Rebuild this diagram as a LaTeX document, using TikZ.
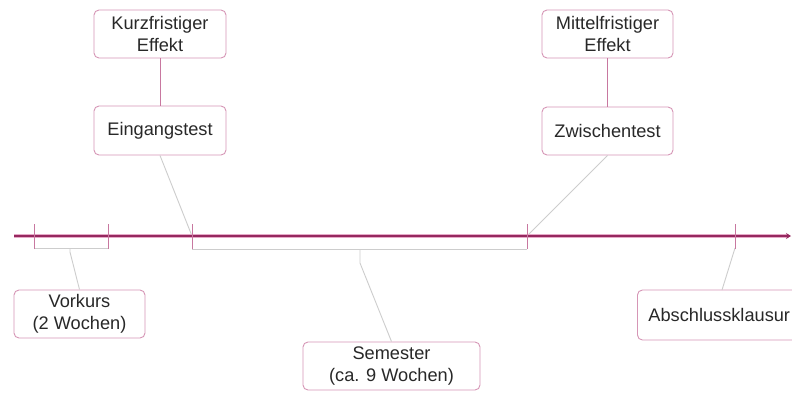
\documentclass[tikz,border=0pt]{standalone}
\usepackage{fontspec}
\setmainfont{Liberation Sans}
\usetikzlibrary{arrows.meta}
\definecolor{boxpink}{RGB}{214,150,182}
\definecolor{linkpink}{RGB}{200,120,160}
\definecolor{axisdark}{RGB}{150,40,95}
\definecolor{axislight}{RGB}{230,170,200}
\definecolor{graylink}{RGB}{205,205,205}
\definecolor{txt}{RGB}{40,40,40}
\tikzset{
  box/.style={draw=boxpink, line width=0.9pt, rounded corners=5pt, fill=white,
    align=center, text=txt, font=\fontsize{18.2}{22}\selectfont,
    inner sep=0pt},
  graylink/.style={draw=graylink, line width=0.9pt},
  pinklink/.style={draw=linkpink, line width=1pt},
  tickline/.style={draw=linkpink, line width=0.9pt},
}
\begin{document}
\begin{tikzpicture}[x=1pt,y=-1pt]
\path[use as bounding box, clip] (0,0) rectangle (792,392);
\fill[white] (0,0) rectangle (792,392);

% boxes
\node[box, minimum width=132pt, minimum height=48pt] (kurz) at (160,34) {Kurzfristiger\\Effekt};
\node[box, minimum width=132pt, minimum height=49pt] (eing) at (160,130.5) {Eingangstest};
\node[box, minimum width=131pt, minimum height=48pt] (mittel) at (607.5,34) {Mittelfristiger\\Effekt};
\node[box, minimum width=131pt, minimum height=48pt] (zwi) at (607.5,131) {Zwischentest};
\node[box, minimum width=131pt, minimum height=48pt] (vork) at (79.5,314) {Vorkurs\\(2 Wochen)};
\node[box, minimum width=177pt, minimum height=48pt] (sem) at (391.5,366) {Semester\\(ca. 9 Wochen)};
\node[box, anchor=west, minimum height=50pt, inner xsep=11pt] (absch) at (637,315) {Abschlussklausur};

% axis coordinates
\coordinate (ax0) at (14,236);
\coordinate (ax1) at (791,236);
\coordinate (t1) at (34,236);
\coordinate (t2) at (108,236);
\coordinate (t3) at (192,236);
\coordinate (t4) at (527,236);
\coordinate (t5) at (735,236);

% brackets
\coordinate (b1) at (34,248);
\coordinate (b2) at (108,248);
\coordinate (b3) at (192,249);
\coordinate (b4) at (527,249);
\coordinate (bv) at (70,248);
\coordinate (bs) at (360,249);
\draw[graylink] (b1) -- (b2);
\draw[graylink] (b3) -- (b4);
\draw[graylink] (bv) -- ++(0,4) -- (vork.north);
\draw[graylink] (bs) -- ++(0,14) -- (sem.north);

% slanted links
\draw[graylink] (eing.south) -- (t3);
\draw[graylink] (zwi.south) -- (t4);
\coordinate (t5b) at (735,248);
\draw[graylink] (t5b) -- (722,290);

% vertical links
\draw[pinklink] (kurz.south) -- (eing.north);
\draw[pinklink] (mittel.south) -- (zwi.north);

% axis
\draw[axislight, line width=3.4pt] (ax0) -- (788,236);
\draw[axisdark, line width=1.4pt, -{Stealth[length=5pt,width=6pt]}] (ax0) -- (ax1);

% ticks
\foreach \t in {t1,t2,t3,t4,t5}{
  \draw[tickline] ([yshift=-13pt]\t) -- ([yshift=12pt]\t);
}
\end{tikzpicture}
\end{document}
